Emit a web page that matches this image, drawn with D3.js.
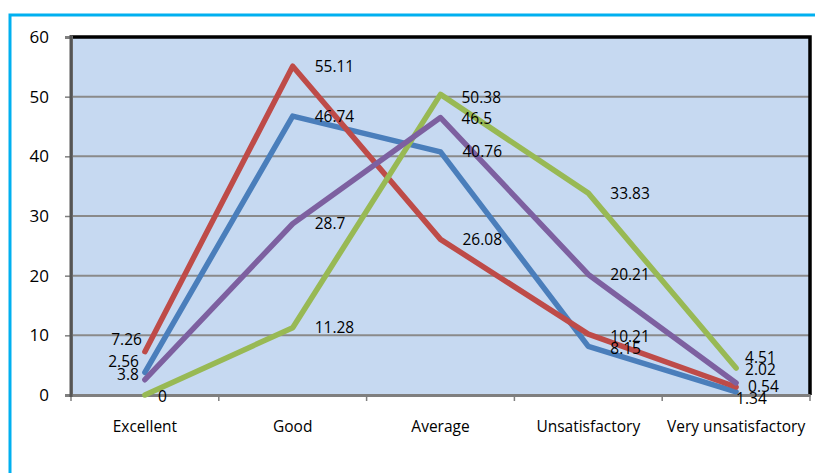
<!DOCTYPE html>
<html><head><meta charset="utf-8">
<script src="https://cdn.jsdelivr.net/npm/d3@7"></script>
<style>html,body{margin:0;padding:0;background:#fff;}svg{display:block;font-family:"Open Sans",sans-serif;}</style>
</head><body>
<script>
const categories = ["Excellent","Good","Average","Unsatisfactory","Very unsatisfactory"];
const blueValues   = [3.8, 46.74, 40.76, 8.15, 0.54];
const redValues    = [7.26, 55.11, 26.08, 10.21, 1.34];
const greenValues  = [0, 11.28, 50.38, 33.83, 4.51];
const purpleValues = [2.56, 28.7, 46.5, 20.21, 2.02];
const yTicks = [0,10,20,30,40,50,60];

const colors = ["#4A7EBB","#BE4B48","#98B954","#7D60A0"];
const allSeries = [blueValues, redValues, greenValues, purpleValues];

// label nudges (layout only): key "series,category" -> [dx, dy, anchor]
const labelNudge = {
  "0,0": [-6, 2, "end"], "1,0": [-3, -12, "end"], "3,0": [-6, -18, "end"], "2,0": [13, 2, "start"],
  "0,3": [22, 2, "start"], "1,3": [22, 2, "start"],
  "2,4": [9, -11, "start"], "3,4": [9, -13, "start"], "0,4": [12, -5, "start"], "1,4": [0, 12, "start"],
  "2,2": [21, 3, "start"], "3,2": [21, 1.5, "start"]
};

const W = 815, H = 473;
const FONT = "'Open Sans', sans-serif";
const svg = d3.select("body").append("svg").attr("width", W).attr("height", H);

// outer border
svg.append("rect").attr("x", 10).attr("y", 15).attr("width", 820).attr("height", 480)
  .attr("fill", "none").attr("stroke", "#00B0F0").attr("stroke-width", 3);

const L = 71, R = 810, T = 37, B = 395;
const x = d3.scaleBand().domain(categories).range([L, R]);
const y = d3.scaleLinear().domain([0, 60]).range([B, T]);

svg.append("rect").attr("x", L).attr("y", T).attr("width", R - L).attr("height", B - T).attr("fill", "#C6D9F1");

// gridlines
svg.append("g").selectAll("line").data(yTicks.filter(d => d > 0 && d < 60)).join("line")
  .attr("x1", L).attr("x2", R).attr("y1", d => y(d)).attr("y2", d => y(d))
  .attr("stroke", "#8A8A8A").attr("stroke-width", 2);

// frame top & right
svg.append("path").attr("d", `M${L},${T}H${R}V${B}`).attr("fill", "none").attr("stroke", "#000").attr("stroke-width", 3.5);

// y axis
const yAxis = svg.append("g").attr("transform", `translate(${L},0)`)
  .call(d3.axisLeft(y).tickValues(yTicks).tickSize(6).tickPadding(16));
yAxis.select(".domain").attr("stroke", "#7F7F7F").attr("stroke-width", 3);
yAxis.selectAll(".tick line").attr("stroke", "#7F7F7F").attr("stroke-width", 1.5);
yAxis.selectAll("text").attr("font-size", 17).attr("fill", "#000").attr("font-family", FONT);

// x axis
const xAxis = svg.append("g").attr("transform", `translate(0,${B})`)
  .call(d3.axisBottom(x).tickSize(0).tickPadding(26));
xAxis.select(".domain").attr("stroke", "#7F7F7F").attr("stroke-width", 3);
xAxis.selectAll("text").attr("font-size", 15.5).attr("fill", "#000").attr("font-family", FONT);
// tick marks at boundaries
const bounds = categories.map(c => x(c)).concat([R]);
svg.append("g").selectAll("line").data(bounds).join("line")
  .attr("x1", d => d).attr("x2", d => d).attr("y1", B).attr("y2", B + 6)
  .attr("stroke", "#7F7F7F").attr("stroke-width", 1.5);
svg.append("line").attr("x1", L).attr("x2", L).attr("y1", T - 2).attr("y2", B + 2).attr("stroke", "#555").attr("stroke-width", 3);

const cx = c => x(c) + x.bandwidth() / 2;
const line = d3.line().x((d, i) => cx(categories[i])).y(d => y(d));

// draw lines
allSeries.forEach((vals, s) => {
  svg.append("path").datum(vals).attr("d", line).attr("fill", "none")
    .attr("stroke", colors[s]).attr("stroke-width", 5.5).attr("stroke-linejoin", "round").attr("stroke-linecap", "round");
});

// labels
allSeries.forEach((vals, s) => {
  vals.forEach((v, i) => {
    const n = labelNudge[s + "," + i] || [22, 0, "start"];
    svg.append("text").attr("x", cx(categories[i]) + n[0]).attr("y", y(v) + n[1])
      .attr("dy", "0.35em").attr("text-anchor", n[2]).attr("font-size", 15.5).attr("fill", "#000")
      .attr("font-family", FONT).text(String(v));
  });
});
</script>
</body></html>
